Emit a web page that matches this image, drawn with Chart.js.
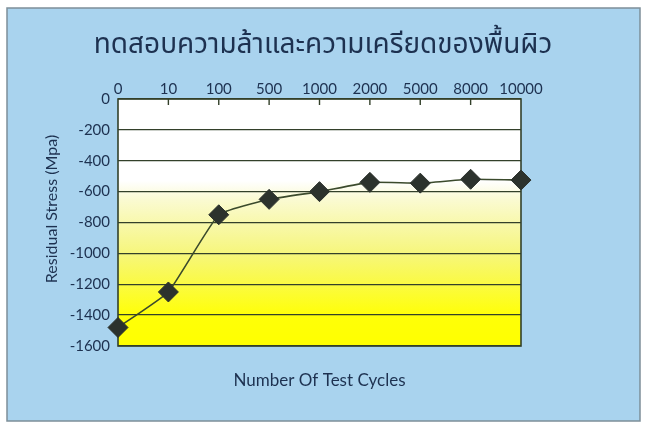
<!DOCTYPE html>
<html><head><meta charset="utf-8">
<script src="https://cdn.jsdelivr.net/npm/chart.js@4/dist/chart.umd.min.js"></script>
<style>html,body{margin:0;padding:0;background:#fff;overflow:hidden}#wrap{width:646px;height:423px}</style>
</head><body><div id="wrap"><canvas id="c" width="646" height="423"></canvas></div>
<script>
const chartTitle = 'ทดสอบความล้าและความเครียดของพื้นผิว';
const cycles = ['0', '10', '100', '500', '1000', '2000', '5000', '8000', '10000'];
const residualStress = [-1480, -1250, -750, -650, -600, -540, -545, -520, -525];
const yMin = -1600, yMax = 0, yStep = 200;
const yAxisTitle = 'Residual Stress (Mpa)';
const xAxisTitle = 'Number Of Test Cycles';

const NAVY = '#1d3150';
const GRID = '#33402a';
const FONT = "Lato, 'Open Sans', sans-serif";

const decor = {
  id: 'decor',
  beforeDraw(chart) {
    const ctx = chart.ctx, a = chart.chartArea, y = chart.scales.y;
    ctx.save();
    ctx.fillStyle = '#ffffff';
    ctx.fillRect(0, 0, chart.width, chart.height);
    ctx.fillStyle = '#a9d3ee';
    ctx.fillRect(7, 8, 633, 413);
    ctx.strokeStyle = '#7d8f99';
    ctx.lineWidth = 1.5;
    ctx.strokeRect(7, 8, 633, 413);
    const g = ctx.createLinearGradient(0, a.top, 0, a.bottom);
    const f = v => (y.getPixelForValue(v) - a.top) / (a.bottom - a.top);
    g.addColorStop(0, '#ffffff');
    g.addColorStop(f(-530), '#ffffff');
    g.addColorStop(f(-650), '#fafad2');
    g.addColorStop(f(-1000), '#f6f67c');
    g.addColorStop(f(-1400), '#ffff08');
    g.addColorStop(1, '#ffff00');
    ctx.fillStyle = g;
    ctx.fillRect(a.left, a.top, a.right - a.left, a.bottom - a.top);
    ctx.restore();
  },
  beforeDatasetsDraw(chart) {
    const ctx = chart.ctx, a = chart.chartArea, x = chart.scales.x;
    ctx.save();
    ctx.strokeStyle = GRID;
    ctx.lineWidth = 1.6;
    ctx.strokeRect(a.left, a.top, a.right - a.left, a.bottom - a.top);
    ctx.lineWidth = 1.4;
    for (let i = 1; i < cycles.length - 1; i++) {
      const px = x.getPixelForTick(i);
      ctx.beginPath();
      ctx.moveTo(px, a.top);
      ctx.lineTo(px, a.top + 6);
      ctx.stroke();
    }
    ctx.fillStyle = NAVY;
    ctx.font = '16px ' + FONT;
    ctx.textAlign = 'center';
    ctx.textBaseline = 'middle';
    ctx.translate(52, 209);
    ctx.rotate(-Math.PI / 2);
    ctx.fillText(yAxisTitle, 0, 0);
    ctx.restore();
  }
};

new Chart(document.getElementById('c'), {
  type: 'line',
  data: {
    labels: cycles,
    datasets: [{
      data: residualStress,
      borderColor: '#3b4a2c',
      borderWidth: 1.6,
      tension: 0.12,
      pointStyle: 'rectRot',
      pointRadius: 10,
      pointHoverRadius: 10,
      pointBackgroundColor: '#2c322d',
      pointBorderColor: '#2c322d',
      pointBorderWidth: 1,
      clip: false
    }]
  },
  options: {
    responsive: false,
    devicePixelRatio: 1,
    animation: false,
    layout: { padding: 0 },
    plugins: {
      legend: { display: false },
      tooltip: { enabled: false },
      title: {
        display: true,
        text: chartTitle,
        color: NAVY,
        font: { size: 28, weight: 'normal', family: "'Noto Sans Thai', 'Noto Sans', sans-serif" },
        padding: { top: 31, bottom: 0 }
      }
    },
    scales: {
      x: {
        type: 'category',
        position: 'top',
        offset: false,
        grid: { display: false },
        border: { display: false },
        ticks: { color: NAVY, font: { size: 15, family: FONT }, padding: -7, maxRotation: 0, autoSkip: false },
        afterFit: s => { s.height = 34.4; }
      },
      x2: {
        type: 'category',
        position: 'bottom',
        offset: false,
        grid: { display: false },
        border: { display: false },
        ticks: { display: false },
        title: { display: true, text: xAxisTitle, color: NAVY, font: { size: 17, family: FONT }, padding: { top: 32, bottom: 32 } },
        afterFit: s => { s.height = 77; }
      },
      y: {
        min: yMin,
        max: yMax,
        ticks: { stepSize: yStep, color: NAVY, font: { size: 15, family: FONT }, padding: 8, callback: v => String(v) },
        grid: { color: GRID, lineWidth: 1.3, drawTicks: false },
        border: { display: false },
        afterFit: s => { s.width = 118; }
      },
      y2: {
        position: 'right',
        min: yMin,
        max: yMax,
        ticks: { display: false },
        grid: { display: false },
        border: { display: false },
        afterFit: s => { s.width = 125; }
      }
    }
  },
  plugins: [decor]
});
</script>
</body></html>
